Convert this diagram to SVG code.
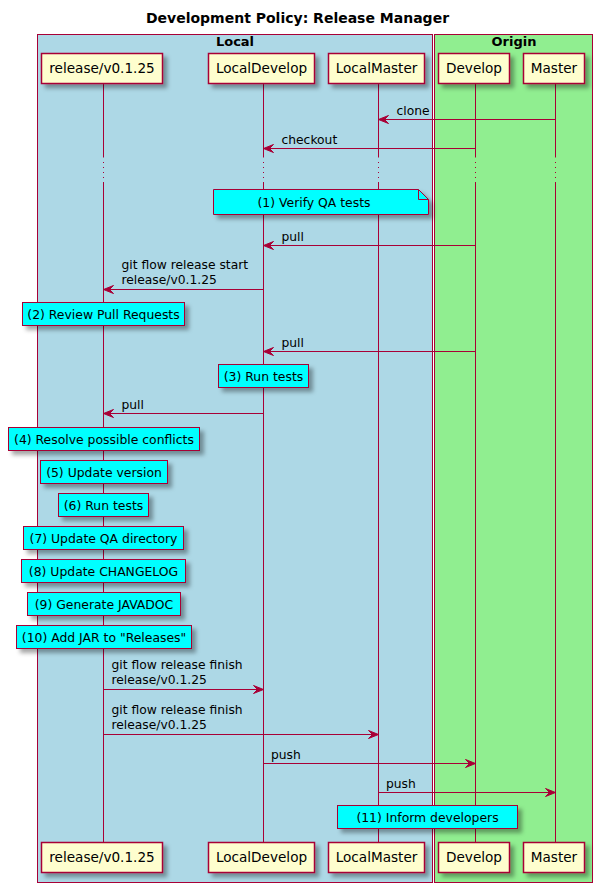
<svg xmlns="http://www.w3.org/2000/svg" width="603" height="893" viewBox="0 0 603 893">
<style>
text{font-family:"DejaVu Sans","Liberation Sans",sans-serif;fill:#000}
.title{font-size:14px;font-weight:bold}
.boxlbl{font-size:13px;font-weight:bold}
.pname{font-size:13.6px}
.msg{font-size:12.3px}
.ntxt{font-size:12.4px}
.part{fill:#FEFECE;stroke:#A80036;stroke-width:1.5;filter:url(#sh)}
.note{fill:#00FFFF;stroke:#A80036;stroke-width:1;filter:url(#sh)}
.life{stroke:#A80036;stroke-width:1;fill:none}
.dots{stroke:#A80036;stroke-width:1;stroke-dasharray:1 4;fill:none}
.arr{stroke:#A80036;stroke-width:1;fill:none;marker-end:url(#ah)}
</style>
<defs>
<filter id="sh" x="-20%" y="-30%" width="140%" height="180%">
<feDropShadow dx="4" dy="4" stdDeviation="2" flood-color="#000" flood-opacity="0.35"/>
</filter>
<marker id="ah" markerUnits="userSpaceOnUse" markerWidth="14" markerHeight="12" viewBox="-1 -6 14 12" refX="10" refY="0" orient="auto">
<path d="M0,-4 L10,0 L0,4 L4,0 Z" fill="#A80036" stroke="#A80036" stroke-width="1" stroke-linejoin="miter"/>
</marker>
</defs>
<rect width="603" height="893" fill="#FFFFFF"/>
<text class="title" x="297.5" y="23" text-anchor="middle">Development Policy: Release Manager</text>

<g id="box-local">
<rect x="37.5" y="34.5" width="395" height="848" fill="#ADD8E6" stroke="#A80036" stroke-width="1"/>
<text class="boxlbl" x="235" y="46" text-anchor="middle">Local</text>
</g>
<g id="box-origin">
<rect x="434.5" y="34.5" width="158" height="848" fill="#90EE90" stroke="#A80036" stroke-width="1"/>
<text class="boxlbl" x="514" y="46" text-anchor="middle">Origin</text>
</g>

<g id="lifelines">
<path class="life" d="M103.5,83.5V157.5M103.5,182V842.5M263.5,83.5V157.5M263.5,182V842.5M378.5,83.5V157.5M378.5,182V842.5M475.5,83.5V157.5M475.5,182V842.5M555.5,83.5V157.5M555.5,182V842.5"/>
<path class="dots" d="M103.5,162V182M263.5,162V182M378.5,162V182M475.5,162V182M555.5,162V182"/>
</g>

<g id="p-release">
<rect class="part" x="41.5" y="53.5" width="121" height="30"/>
<text class="pname" x="102" y="73" text-anchor="middle">release/v0.1.25</text>
<rect class="part" x="41.5" y="842.5" width="121" height="30"/>
<text class="pname" x="102" y="862" text-anchor="middle">release/v0.1.25</text>
</g>
<g id="p-localdevelop">
<rect class="part" x="208.5" y="53.5" width="106" height="30"/>
<text class="pname" x="261.5" y="73" text-anchor="middle">LocalDevelop</text>
<rect class="part" x="208.5" y="842.5" width="106" height="30"/>
<text class="pname" x="261.5" y="862" text-anchor="middle">LocalDevelop</text>
</g>
<g id="p-localmaster">
<rect class="part" x="328.5" y="53.5" width="96" height="30"/>
<text class="pname" x="376.5" y="73" text-anchor="middle">LocalMaster</text>
<rect class="part" x="328.5" y="842.5" width="96" height="30"/>
<text class="pname" x="376.5" y="862" text-anchor="middle">LocalMaster</text>
</g>
<g id="p-develop">
<rect class="part" x="438.5" y="53.5" width="71" height="30"/>
<text class="pname" x="474" y="73" text-anchor="middle">Develop</text>
<rect class="part" x="438.5" y="842.5" width="71" height="30"/>
<text class="pname" x="474" y="862" text-anchor="middle">Develop</text>
</g>
<g id="p-master">
<rect class="part" x="523.5" y="53.5" width="61" height="30"/>
<text class="pname" x="554" y="73" text-anchor="middle">Master</text>
<rect class="part" x="523.5" y="842.5" width="61" height="30"/>
<text class="pname" x="554" y="862" text-anchor="middle">Master</text>
</g>

<g id="connectors">
<line class="arr" x1="555.5" y1="119.5" x2="378.5" y2="119.5"/>
<text class="msg" x="396.5" y="114.5">clone</text>
<line class="arr" x1="475.5" y1="148.5" x2="263.5" y2="148.5"/>
<text class="msg" x="281.5" y="143.5">checkout</text>
<line class="arr" x1="475.5" y1="245.5" x2="263.5" y2="245.5"/>
<text class="msg" x="281.5" y="240.5">pull</text>
<line class="arr" x1="263.5" y1="289.5" x2="103.5" y2="289.5"/>
<text class="msg" x="121.5" y="268.5">git flow release start</text>
<text class="msg" x="121.5" y="284">release/v0.1.25</text>
<line class="arr" x1="475.5" y1="351.5" x2="263.5" y2="351.5"/>
<text class="msg" x="281.5" y="346.5">pull</text>
<line class="arr" x1="263.5" y1="413.5" x2="103.5" y2="413.5"/>
<text class="msg" x="121.5" y="408.5">pull</text>
<line class="arr" x1="103.5" y1="689.5" x2="263.5" y2="689.5"/>
<text class="msg" x="111.5" y="669">git flow release finish</text>
<text class="msg" x="111.5" y="684.3">release/v0.1.25</text>
<line class="arr" x1="103.5" y1="734.5" x2="378.5" y2="734.5"/>
<text class="msg" x="111.5" y="714">git flow release finish</text>
<text class="msg" x="111.5" y="729.3">release/v0.1.25</text>
<line class="arr" x1="263.5" y1="763.5" x2="475.5" y2="763.5"/>
<text class="msg" x="271" y="758.5">push</text>
<line class="arr" x1="378.5" y1="792.5" x2="555.5" y2="792.5"/>
<text class="msg" x="386" y="787.5">push</text>
</g>

<g id="n1">
<path class="note" d="M213.5,189.5H418.5L428.5,199.5V214.5H213.5Z"/>
<path d="M418.5,189.5V199.5H428.5" fill="none" stroke="#A80036" stroke-width="1"/>
<text class="ntxt" x="314" y="206.5" text-anchor="middle">(1) Verify QA tests</text>
</g>
<g id="n2">
<rect class="note" x="22.5" y="302.5" width="162" height="23"/>
<text class="ntxt" x="103.5" y="318.5" text-anchor="middle">(2) Review Pull Requests</text>
</g>
<g id="n3">
<rect class="note" x="218.5" y="364.5" width="90" height="23"/>
<text class="ntxt" x="263.5" y="380.5" text-anchor="middle">(3) Run tests</text>
</g>
<g id="n4">
<rect class="note" x="8.5" y="427.5" width="191" height="23"/>
<text class="ntxt" x="104" y="443.5" text-anchor="middle">(4) Resolve possible conflicts</text>
</g>
<g id="n5">
<rect class="note" x="40.5" y="460.5" width="127" height="23"/>
<text class="ntxt" x="104" y="476.5" text-anchor="middle">(5) Update version</text>
</g>
<g id="n6">
<rect class="note" x="58.5" y="493.5" width="90" height="23"/>
<text class="ntxt" x="103.5" y="509.5" text-anchor="middle">(6) Run tests</text>
</g>
<g id="n7">
<rect class="note" x="23.5" y="526.5" width="160" height="23"/>
<text class="ntxt" x="103.5" y="542.5" text-anchor="middle">(7) Update QA directory</text>
</g>
<g id="n8">
<rect class="note" x="21.5" y="559.5" width="164" height="23"/>
<text class="ntxt" x="103.5" y="575.5" text-anchor="middle">(8) Update CHANGELOG</text>
</g>
<g id="n9">
<rect class="note" x="27.5" y="592.5" width="153" height="23"/>
<text class="ntxt" x="104" y="608.5" text-anchor="middle">(9) Generate JAVADOC</text>
</g>
<g id="n10">
<rect class="note" x="16.5" y="625.5" width="175" height="23"/>
<text class="ntxt" x="104" y="641.5" text-anchor="middle">(10) Add JAR to "Releases"</text>
</g>
<g id="n11">
<rect class="note" x="337.5" y="805.5" width="180" height="23"/>
<text class="ntxt" x="427.5" y="821.5" text-anchor="middle">(11) Inform developers</text>
</g>
</svg>
